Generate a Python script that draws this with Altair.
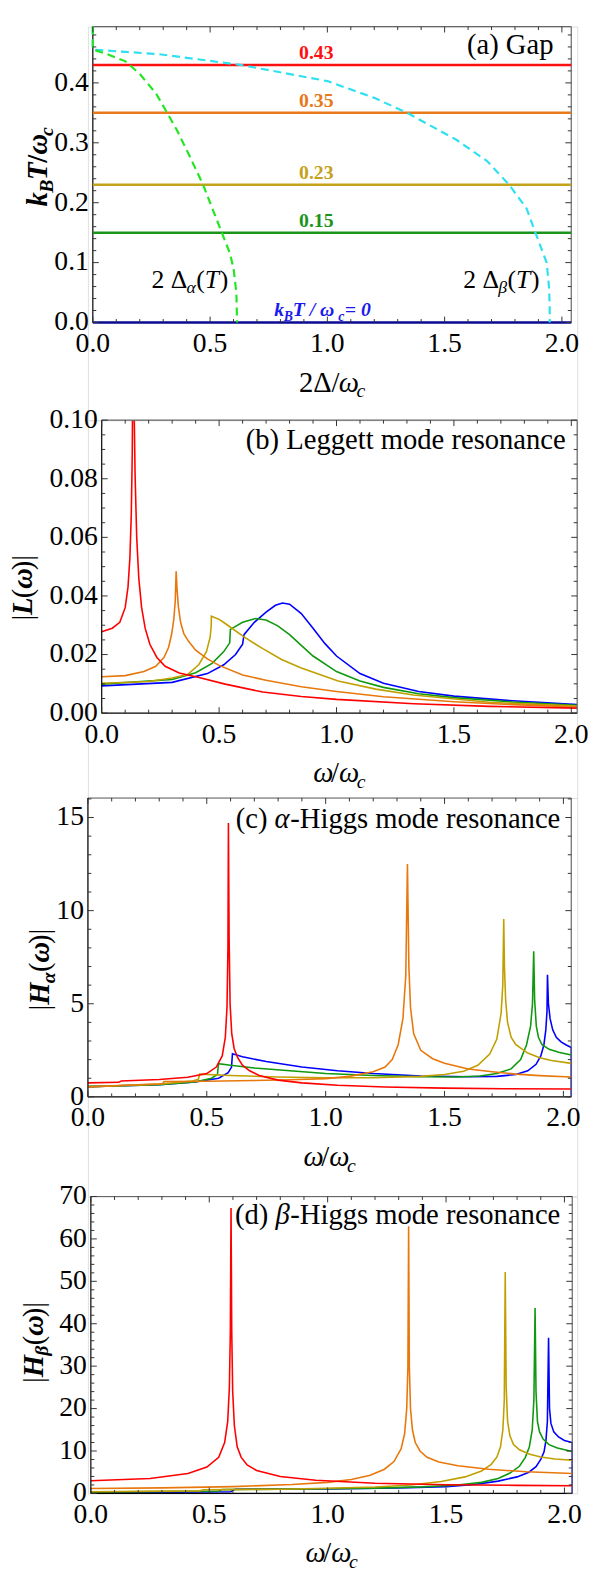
import altair as alt
import pandas as pd

FONT = "Liberation Serif"
NB = "\u00a0"

# ---------------- (a) Gap ----------------
temps = [0.43, 0.35, 0.23, 0.15, 0.0]
temp_text = ["0.43", "0.35", "0.23", "0.15"]
temp_line_colors = ["#ff1010", "#e8781a", "#c4a21a", "#1a941a", "#0a0a90"]
temp_text_colors = ["#ee1111", "#f38450", "#a6965a", "#1f8a1f"]

alpha_gap_x = [0.0, 0.0, 0.055, 0.139, 0.2, 0.27, 0.317, 0.36, 0.41, 0.47, 0.51, 0.55, 0.585, 0.60, 0.612, 0.615]
alpha_gap_T = [0.494, 0.4555, 0.449, 0.436, 0.415, 0.382, 0.35, 0.32, 0.28, 0.23, 0.19, 0.15, 0.115, 0.09, 0.05, 0.0]
beta_gap_x = [0.0, 0.0, 0.28, 0.63, 1.0, 1.2, 1.34, 1.55, 1.68, 1.775, 1.85, 1.887, 1.935, 1.945, 1.948, 1.948]
beta_gap_T = [0.494, 0.4555, 0.448, 0.43, 0.403, 0.375, 0.35, 0.305, 0.27, 0.23, 0.19, 0.15, 0.1, 0.06, 0.03, 0.0]

# ---------------- (b) Leggett ----------------
red_b_x = [0.0, 0.045, 0.077, 0.1, 0.112, 0.12, 0.126, 0.13, 0.1335, 0.137, 0.142, 0.149, 0.158, 0.17, 0.185, 0.205, 0.235, 0.27, 0.33, 0.414, 0.526, 0.686, 0.85, 1.0, 1.33, 1.65, 2.025]
red_b_y = [0.0278, 0.029, 0.031, 0.036, 0.043, 0.053, 0.068, 0.088, 0.13, 0.11, 0.082, 0.06, 0.046, 0.036, 0.029, 0.0235, 0.019, 0.016, 0.0137, 0.0122, 0.0099, 0.0072, 0.0057, 0.0047, 0.0032, 0.0023, 0.0017]
orange_b_x = [0.0, 0.1, 0.18, 0.23, 0.265, 0.285, 0.298, 0.307, 0.313, 0.317, 0.321, 0.327, 0.336, 0.35, 0.37, 0.4, 0.45, 0.5, 0.6, 0.7, 0.85, 1.0, 1.2, 1.5, 1.75, 2.025]
orange_b_y = [0.0124, 0.0128, 0.0142, 0.016, 0.019, 0.0225, 0.027, 0.032, 0.038, 0.0484, 0.042, 0.036, 0.031, 0.027, 0.0245, 0.0215, 0.0185, 0.0163, 0.013, 0.0112, 0.009, 0.0074, 0.0056, 0.0039, 0.0029, 0.0021]
olive_b_x = [0.0, 0.2, 0.3, 0.366, 0.414, 0.446, 0.462, 0.4665, 0.467, 0.5, 0.526, 0.606, 0.686, 0.766, 0.847, 1.007, 1.167, 1.328, 1.649, 2.025]
olive_b_y = [0.0102, 0.0108, 0.012, 0.0132, 0.0166, 0.021, 0.026, 0.03, 0.0331, 0.032, 0.0306, 0.026, 0.022, 0.0183, 0.0155, 0.011, 0.0082, 0.0062, 0.0037, 0.0024]
green_b_x = [0.0, 0.3, 0.4, 0.47, 0.52, 0.545, 0.548, 0.6, 0.655, 0.7, 0.75, 0.8, 0.9, 1.0, 1.1, 1.2, 1.35, 1.5, 1.75, 2.025]
green_b_y = [0.0099, 0.0115, 0.0138, 0.017, 0.021, 0.024, 0.0286, 0.031, 0.0323, 0.0318, 0.0298, 0.0268, 0.0195, 0.0142, 0.011, 0.0088, 0.0066, 0.0053, 0.0038, 0.0027]
blue_b_x = [0.0, 0.3, 0.45, 0.52, 0.57, 0.6, 0.606, 0.65, 0.7, 0.74, 0.77, 0.8, 0.85, 0.9, 0.95, 1.0, 1.1, 1.2, 1.35, 1.5, 1.75, 2.025]
blue_b_y = [0.0093, 0.0105, 0.0135, 0.0165, 0.02, 0.0235, 0.0268, 0.031, 0.0345, 0.0368, 0.0376, 0.0372, 0.034, 0.029, 0.0238, 0.0195, 0.0135, 0.0102, 0.0074, 0.0058, 0.0042, 0.0029]

# ---------------- (c) alpha-Higgs ----------------
red_c_x = [0.0, 0.13, 0.14, 0.3, 0.42, 0.5, 0.54, 0.565, 0.578, 0.585, 0.589, 0.591, 0.594, 0.598, 0.605, 0.615, 0.63, 0.65, 0.68, 0.72, 0.8, 0.9, 1.05, 1.25, 1.5, 1.75, 2.033]
red_c_y = [0.75, 0.78, 0.85, 0.93, 1.05, 1.25, 1.6, 2.2, 3.2, 4.8, 8.0, 14.7, 8.5, 5.0, 3.4, 2.6, 2.1, 1.7, 1.4, 1.15, 0.9, 0.75, 0.62, 0.53, 0.47, 0.44, 0.42]
orange_c_x = [0.0, 0.3, 0.315, 0.32, 0.5, 0.7, 0.85, 1.0, 1.1, 1.2, 1.25, 1.28, 1.305, 1.325, 1.337, 1.344, 1.35, 1.357, 1.37, 1.4, 1.45, 1.5, 1.6, 1.7, 1.8, 1.9, 2.033]
orange_c_y = [0.53, 0.7, 0.72, 0.82, 0.84, 0.88, 0.92, 0.98, 1.1, 1.35, 1.6, 2.0, 2.8, 4.2, 6.5, 12.5, 7.0, 4.8, 3.4, 2.5, 2.05, 1.8, 1.5, 1.35, 1.22, 1.14, 1.07]
olive_c_x = [0.0, 0.3, 0.44, 0.465, 0.47, 0.6, 0.8, 1.0, 1.2, 1.4, 1.5, 1.58, 1.64, 1.69, 1.72, 1.738, 1.745, 1.749, 1.752, 1.757, 1.765, 1.78, 1.8, 1.85, 1.9, 1.95, 2.033]
olive_c_y = [0.55, 0.68, 0.85, 0.95, 1.22, 1.15, 1.07, 1.03, 1.03, 1.1, 1.2, 1.38, 1.7, 2.3, 3.1, 4.5, 6.0, 9.55, 7.0, 5.2, 4.0, 3.2, 2.8, 2.35, 2.1, 1.95, 1.8]
green_c_x = [0.0, 0.3, 0.45, 0.52, 0.545, 0.549, 0.6, 0.7, 0.85, 1.0, 1.2, 1.4, 1.55, 1.65, 1.72, 1.78, 1.82, 1.845, 1.862, 1.87, 1.875, 1.879, 1.886, 1.895, 1.91, 1.94, 1.98, 2.033]
green_c_y = [0.55, 0.65, 0.8, 1.0, 1.2, 1.78, 1.7, 1.55, 1.4, 1.25, 1.15, 1.08, 1.07, 1.12, 1.25, 1.5, 2.0, 2.8, 3.8, 5.0, 7.82, 5.2, 3.8, 3.2, 2.8, 2.55, 2.4, 2.25]
blue_c_x = [0.0, 0.3, 0.45, 0.55, 0.59, 0.604, 0.608, 0.65, 0.75, 0.9, 1.05, 1.2, 1.4, 1.6, 1.72, 1.8, 1.85, 1.885, 1.905, 1.918, 1.926, 1.931, 1.933, 1.937, 1.944, 1.955, 1.97, 1.99, 2.01, 2.033, 2.033]
blue_c_y = [0.55, 0.65, 0.8, 1.0, 1.3, 1.6, 2.31, 2.15, 1.9, 1.6, 1.4, 1.25, 1.12, 1.08, 1.1, 1.2, 1.4, 1.75, 2.2, 2.8, 3.6, 4.6, 6.56, 5.0, 4.2, 3.6, 3.2, 2.95, 2.8, 2.65, 0.0]

# ---------------- (d) beta-Higgs ----------------
red_d_x = [0.0, 0.25, 0.41, 0.49, 0.54, 0.565, 0.578, 0.585, 0.589, 0.592, 0.595, 0.599, 0.606, 0.618, 0.635, 0.66, 0.7, 0.8, 0.95, 1.2, 1.5, 1.8, 2.033]
red_d_y = [3.0, 3.5, 4.7, 6.2, 8.5, 12.0, 17.0, 25.0, 38.0, 67.3, 38.0, 24.0, 16.0, 11.0, 8.5, 6.7, 5.4, 4.0, 3.1, 2.4, 2.05, 1.9, 1.8]
orange_d_x = [0.0, 0.3, 0.6, 0.85, 1.0, 1.1, 1.18, 1.24, 1.28, 1.31, 1.325, 1.334, 1.339, 1.342, 1.345, 1.35, 1.358, 1.37, 1.39, 1.42, 1.47, 1.55, 1.68, 1.84, 2.033]
orange_d_y = [1.16, 1.3, 1.6, 2.1, 2.6, 3.3, 4.3, 5.7, 7.5, 10.5, 14.0, 20.0, 30.0, 63.0, 30.0, 20.0, 15.0, 12.0, 10.0, 8.5, 7.4, 6.5, 5.7, 5.1, 4.7]
olive_d_x = [0.0, 0.46, 0.475, 0.8, 1.0, 1.2, 1.35, 1.48, 1.58, 1.65, 1.69, 1.715, 1.73, 1.74, 1.746, 1.75, 1.754, 1.76, 1.77, 1.785, 1.81, 1.85, 1.9, 1.96, 2.033]
olive_d_y = [0.4, 0.6, 0.85, 1.0, 1.2, 1.5, 2.0, 2.8, 3.9, 5.3, 6.8, 8.6, 11.0, 15.0, 22.0, 52.2, 25.0, 17.0, 13.5, 11.5, 10.3, 9.3, 8.6, 8.1, 7.8]
green_d_x = [0.0, 0.54, 0.555, 0.9, 1.2, 1.4, 1.55, 1.65, 1.72, 1.77, 1.81, 1.835, 1.852, 1.864, 1.871, 1.876, 1.88, 1.886, 1.895, 1.91, 1.935, 1.97, 2.033]
green_d_y = [0.3, 0.55, 0.9, 1.05, 1.25, 1.55, 2.0, 2.6, 3.5, 4.8, 6.4, 8.5, 11.0, 15.0, 22.0, 43.7, 24.0, 17.0, 14.5, 12.8, 11.5, 10.7, 9.9]
blue_d_x = [0.0, 0.59, 0.61, 1.0, 1.3, 1.5, 1.62, 1.72, 1.8, 1.85, 1.88, 1.9, 1.914, 1.922, 1.928, 1.933, 1.937, 1.943, 1.955, 1.975, 2.0, 2.033, 2.033]
blue_d_y = [0.1, 0.4, 1.0, 1.05, 1.3, 1.6, 2.1, 2.9, 3.9, 5.0, 6.3, 8.0, 9.8, 12.5, 17.0, 36.7, 20.0, 16.5, 14.5, 13.3, 12.5, 12.0, 0.0]

series_colors = {"blue": "#0000ff", "green": "#0f990f", "olive": "#c0a000", "orange": "#e8780c", "red": "#ff0000"}

x_major = [0.0, 0.5, 1.0, 1.5, 2.0]
x_major_text = ["0.0", "0.5", "1.0", "1.5", "2.0"]
x_minor = [round(0.1 * i, 2) for i in range(1, 21) if i % 5]

# ---------------- helpers ----------------
CW = {'.': .25, ' ': .25, NB: .25, '(': .333, ')': .333, '/': .278, '|': .2, '=': .6, '-': .333,
      'a': .444, 'b': .5, 'c': .444, 'd': .5, 'e': .444, 'g': .5, 'i': .278, 'm': .778, 'n': .5,
      'o': .5, 'p': .5, 'r': .333, 's': .389, 't': .278, 'k': .46,
      'G': .722, 'H': .722, 'L': .556, 'T': .58, 'B': .62,
      'Δ': .612, 'α': .55, 'β': .52, 'ω': .62}


def tw(text, size, weight):
    return sum(CW.get(ch, .5) for ch in text) * size * (1.04 if weight == "bold" else 1.0)


def run_layers(runs, xe, ye, angle=0, align="center", base=0.0):
    widths = [tw(r[0], r[1], r[3]) for r in runs]
    total = sum(widths)
    pos = {"center": -total / 2, "right": -total, "left": 0.0}[align]
    out = []
    for r, w in zip(runs, widths):
        text, size, style, weight, shift, color = r
        out.append(alt.Chart(pd.DataFrame({"t": [text.replace(" ", NB)]})).mark_text(
            font=FONT, fontSize=size, fontStyle=style, fontWeight=weight, color=color,
            align="left", baseline="alphabetic", angle=angle, dx=pos, dy=base + shift
        ).encode(x=xe, y=ye, text="t:N"))
        pos += w
    return out


def one():
    return pd.DataFrame({"k": [0]})


def frame_layers(L, W, T, H):
    out = []
    for y, c in ((T, "#666666"), (T + H, "#000000")):
        out.append(alt.Chart(one()).mark_rule(color=c, strokeWidth=1.2).encode(
            x=alt.value(L), x2=alt.value(L + W), y=alt.value(y)))
    for x, c in ((L, "#000000"), (L + W, "#666666")):
        out.append(alt.Chart(one()).mark_rule(color=c, strokeWidth=1.2).encode(
            x=alt.value(x), y=alt.value(T), y2=alt.value(T + H)))
    return out


def tick_layers(xs, ys, ymaj, ymin, L, W, T, H):
    out = []
    tc = "#333333"
    for vals, ln in ((x_major, 6), (x_minor, 3.5)):
        d = pd.DataFrame({"v": vals})
        X = alt.X("v:Q", scale=xs, axis=None)
        out.append(alt.Chart(d).mark_rule(color=tc, strokeWidth=1).encode(x=X, y=alt.value(T + H), y2=alt.value(T + H - ln)))
        out.append(alt.Chart(d).mark_rule(color=tc, strokeWidth=1).encode(x=X, y=alt.value(T), y2=alt.value(T + ln)))
    for vals, ln in ((ymaj, 6), (ymin, 3.5)):
        d = pd.DataFrame({"v": vals})
        Y = alt.Y("v:Q", scale=ys, axis=None)
        out.append(alt.Chart(d).mark_rule(color=tc, strokeWidth=1).encode(y=Y, x=alt.value(L), x2=alt.value(L + ln)))
        out.append(alt.Chart(d).mark_rule(color=tc, strokeWidth=1).encode(y=Y, x=alt.value(L + W), x2=alt.value(L + W - ln)))
    return out


def label_layers(xs, ys, ymaj, ylab, L, T, H):
    dx = pd.DataFrame({"v": x_major, "t": x_major_text})
    dy = pd.DataFrame({"v": ymaj, "t": ylab})
    a = alt.Chart(dx).mark_text(font=FONT, fontSize=28, align="center", baseline="middle", color="black").encode(
        x=alt.X("v:Q", scale=xs, axis=None), y=alt.value(T + H + 22), text="t:N")
    b = alt.Chart(dy).mark_text(font=FONT, fontSize=28, align="right", baseline="middle", color="black").encode(
        y=alt.Y("v:Q", scale=ys, axis=None), x=alt.value(L - 4), text="t:N")
    return [a, b]


def series_layers(series, xs, ys, width=1.6):
    out = []
    for name, xv, yv in series:
        d = pd.DataFrame({"x": xv, "y": yv, "i": list(range(len(xv)))})
        out.append(alt.Chart(d).mark_line(clip=True, strokeWidth=width, color=series_colors[name]).encode(
            x=alt.X("x:Q", scale=xs, axis=None), y=alt.Y("y:Q", scale=ys, axis=None), order=alt.Order("i:Q")))
    return out


def xtitle(runs, L, W, T, H):
    return run_layers(runs, alt.value(L + W / 2), alt.value(T + H + 70), align="center")


def ytitle(runs, cx, cy):
    return run_layers(runs, alt.value(cx + 10), alt.value(cy), angle=270, align="center")


def intitle(runs, L, W, T, roff, boff):
    return run_layers(runs, alt.value(L + W - roff), alt.value(T + boff), align="right")


VW = 496
S, SS = 29, 20


def omega_runs():
    return [("ω", S, "italic", "normal", 0, "black"), ("/", S, "normal", "normal", 0, "black"),
            ("ω", S, "italic", "normal", 0, "black"), ("c", SS, "italic", "normal", 6, "black")]


def h_runs(greek):
    return [("|", S, "normal", "normal", 0, "black"), ("H", S, "italic", "bold", 0, "black"),
            (greek, SS, "italic", "bold", 6, "black"), ("(", S, "normal", "normal", 0, "black"),
            ("ω", S, "italic", "bold", 0, "black"), (")|", S, "normal", "normal", 0, "black")]


# ================= panel (a) =================
L, W, T, H, VH = 5, 485, 0, 300, 399
xs = alt.Scale(domain=[0, 2.04], range=[L, L + W], nice=False)
ys = alt.Scale(domain=[0, 0.494], range=[T + H, T], nice=False)
ya_maj = [0.0, 0.1, 0.2, 0.3, 0.4]
ya_lab = ["0.0", "0.1", "0.2", "0.3", "0.4"]
ya_min = [round(0.02 * i, 2) for i in range(1, 25) if i % 5]

la = []
la += frame_layers(L, W, T, H)
lines_df = pd.DataFrame({"T": temps, "c": [str(t) for t in temps]})
la.append(alt.Chart(lines_df).mark_rule(strokeWidth=2.5).encode(
    y=alt.Y("T:Q", scale=ys, axis=None), x=alt.value(L), x2=alt.value(L + W),
    color=alt.Color("c:N", scale=alt.Scale(domain=[str(t) for t in temps], range=temp_line_colors), legend=None)))
for gx, gT, col in ((beta_gap_x, beta_gap_T, "#2ee0f0"), (alpha_gap_x, alpha_gap_T, "#22e622")):
    d = pd.DataFrame({"x": gx, "T": gT, "i": list(range(len(gx)))})
    la.append(alt.Chart(d).mark_line(strokeWidth=2.2, strokeDash=[8, 5], color=col).encode(
        x=alt.X("x:Q", scale=xs, axis=None), y=alt.Y("T:Q", scale=ys, axis=None), order=alt.Order("i:Q")))
la += tick_layers(xs, ys, ya_maj, ya_min, L, W, T, H)
la += label_layers(xs, ys, ya_maj, ya_lab, L, T, H)
lab_df = pd.DataFrame({"T": temps[:4], "t": temp_text})
la.append(alt.Chart(lab_df).mark_text(font=FONT, fontSize=20, fontWeight="bold", align="center", baseline="middle", dy=-12).encode(
    x=alt.XDatum(0.953, type="quantitative", scale=xs, axis=None), y=alt.Y("T:Q", scale=ys, axis=None), text="t:N",
    color=alt.Color("t:N", scale=alt.Scale(domain=temp_text, range=temp_text_colors), legend=None)))
bl = "#1a1aee"
la += run_layers([("k", 20, "italic", "bold", 0, bl), ("B", 14, "italic", "bold", 5, bl), (" T / ω", 20, "italic", "bold", 0, bl),
                  ("c", 14, "italic", "bold", 5, bl), (" = 0", 20, "italic", "bold", 0, bl)],
                 alt.XDatum(0.994, type="quantitative", scale=xs, axis=None), alt.YDatum(0.0, type="quantitative", scale=ys, axis=None),
                 align="center", base=-7)
for gx, g in ((0.414, "α"), (1.742, "β")):
    la += run_layers([("2 Δ", 26, "normal", "normal", 0, "black"), (g, 18, "italic", "normal", 5, "black"),
                      ("(", 26, "normal", "normal", 0, "black"), ("T", 26, "italic", "normal", 0, "black"),
                      (")", 26, "normal", "normal", 0, "black")],
                     alt.XDatum(gx, type="quantitative", scale=xs, axis=None), alt.YDatum(0.0725, type="quantitative", scale=ys, axis=None),
                     align="center", base=9)
la += intitle([("(a) Gap", S, "normal", "normal", 0, "black")], L, W, T, 18, 28)
la += xtitle([("2Δ/", S, "normal", "normal", 0, "black"), ("ω", S, "italic", "normal", 0, "black"),
              ("c", SS, "italic", "normal", 6, "black")], L, W, T, H)
la += ytitle([("k", S, "italic", "bold", 0, "black"), ("B", SS, "italic", "bold", 6, "black"),
              ("T", S, "italic", "bold", 0, "black"), ("/", S, "normal", "bold", 0, "black"),
              ("ω", S, "italic", "bold", 0, "black"), ("c", SS, "italic", "bold", 6, "black")], -51, 142)
panel_a = alt.layer(*la).properties(width=VW, height=VH)

# ================= panel (b) =================
L, W, T, H, VH = 14, 482, 0, 297, 383
xs = alt.Scale(domain=[0, 2.025], range=[L, L + W], nice=False)
ys = alt.Scale(domain=[0, 0.10], range=[T + H, T], nice=False)
yb_maj = [0.0, 0.02, 0.04, 0.06, 0.08, 0.10]
yb_lab = ["0.00", "0.02", "0.04", "0.06", "0.08", "0.10"]
yb_min = [round(0.005 * i, 3) for i in range(1, 20) if i % 4]
lb = []
lb += series_layers([("blue", blue_b_x, blue_b_y), ("green", green_b_x, green_b_y), ("olive", olive_b_x, olive_b_y),
                     ("orange", orange_b_x, orange_b_y), ("red", red_b_x, red_b_y)], xs, ys)
lb += frame_layers(L, W, T, H)
lb += tick_layers(xs, ys, yb_maj, yb_min, L, W, T, H)
lb += label_layers(xs, ys, yb_maj, yb_lab, L, T, H)
lb += intitle([("(b) Leggett mode resonance", S, "normal", "normal", 0, "black")], L, W, T, 13, 29)
lb += xtitle(omega_runs(), L, W, T, H)
lb += ytitle([("|", S, "normal", "normal", 0, "black"), ("L", S, "italic", "bold", 0, "black"),
              ("(", S, "normal", "normal", 0, "black"), ("ω", S, "italic", "bold", 0, "black"),
              (")|", S, "normal", "normal", 0, "black")], -67, 170)
panel_b = alt.layer(*lb).properties(width=VW, height=VH)

# ================= panel (c) =================
L, W, T, H, VH = 0, 490, 0, 303, 404
xs = alt.Scale(domain=[0, 2.033], range=[L, L + W], nice=False)
ys = alt.Scale(domain=[0, 16.05], range=[T + H, T], nice=False)
yc_maj = [0, 5, 10, 15]
yc_lab = ["0", "5", "10", "15"]
yc_min = [i for i in range(1, 17) if i % 5]
lc = []
lc += series_layers([("blue", blue_c_x, blue_c_y), ("green", green_c_x, green_c_y), ("olive", olive_c_x, olive_c_y),
                     ("orange", orange_c_x, orange_c_y), ("red", red_c_x, red_c_y)], xs, ys)
lc += frame_layers(L, W, T, H)
lc += tick_layers(xs, ys, yc_maj, yc_min, L, W, T, H)
lc += label_layers(xs, ys, yc_maj, yc_lab, L, T, H)
lc += intitle([("(c) ", S, "normal", "normal", 0, "black"), ("α", S, "italic", "normal", 0, "black"),
               ("-Higgs mode resonance", S, "normal", "normal", 0, "black")], L, W, T, 11, 30)
lc += xtitle(omega_runs(), L, W, T, H)
lc += ytitle(h_runs("α"), -49, 174)
panel_c = alt.layer(*lc).properties(width=VW, height=VH)

# ================= panel (d) =================
L, W, T, H, VH = 3, 488, 0, 301, 301
xs = alt.Scale(domain=[0, 2.033], range=[L, L + W], nice=False)
ys = alt.Scale(domain=[0, 70], range=[T + H, T], nice=False)
yd_maj = [0, 10, 20, 30, 40, 50, 60, 70]
yd_lab = ["0", "10", "20", "30", "40", "50", "60", "70"]
yd_min = [2 * i for i in range(1, 35) if i % 5]
ld = []
ld += series_layers([("blue", blue_d_x, blue_d_y), ("green", green_d_x, green_d_y), ("olive", olive_d_x, olive_d_y),
                     ("orange", orange_d_x, orange_d_y), ("red", red_d_x, red_d_y)], xs, ys)
ld += frame_layers(L, W, T, H)
ld += tick_layers(xs, ys, yd_maj, yd_min, L, W, T, H)
ld += label_layers(xs, ys, yd_maj, yd_lab, L, T, H)
ld += intitle([("(d) ", S, "normal", "normal", 0, "black"), ("β", S, "italic", "normal", 0, "black"),
               ("-Higgs mode resonance", S, "normal", "normal", 0, "black")], L, W, T, 12, 28)
ld += xtitle(omega_runs(), L, W, T, H)
ld += ytitle(h_runs("β"), -56, 148)
panel_d = alt.layer(*ld).properties(width=VW, height=VH)

chart = alt.vconcat(panel_a, panel_b, panel_c, panel_d, spacing=0, bounds="flush").properties(
    padding={"left": 0, "top": 3, "right": 0, "bottom": 0}
).configure_view(stroke=None).configure(background="white")

chart.save("out.html", embed_options={"renderer": "svg", "actions": False})
